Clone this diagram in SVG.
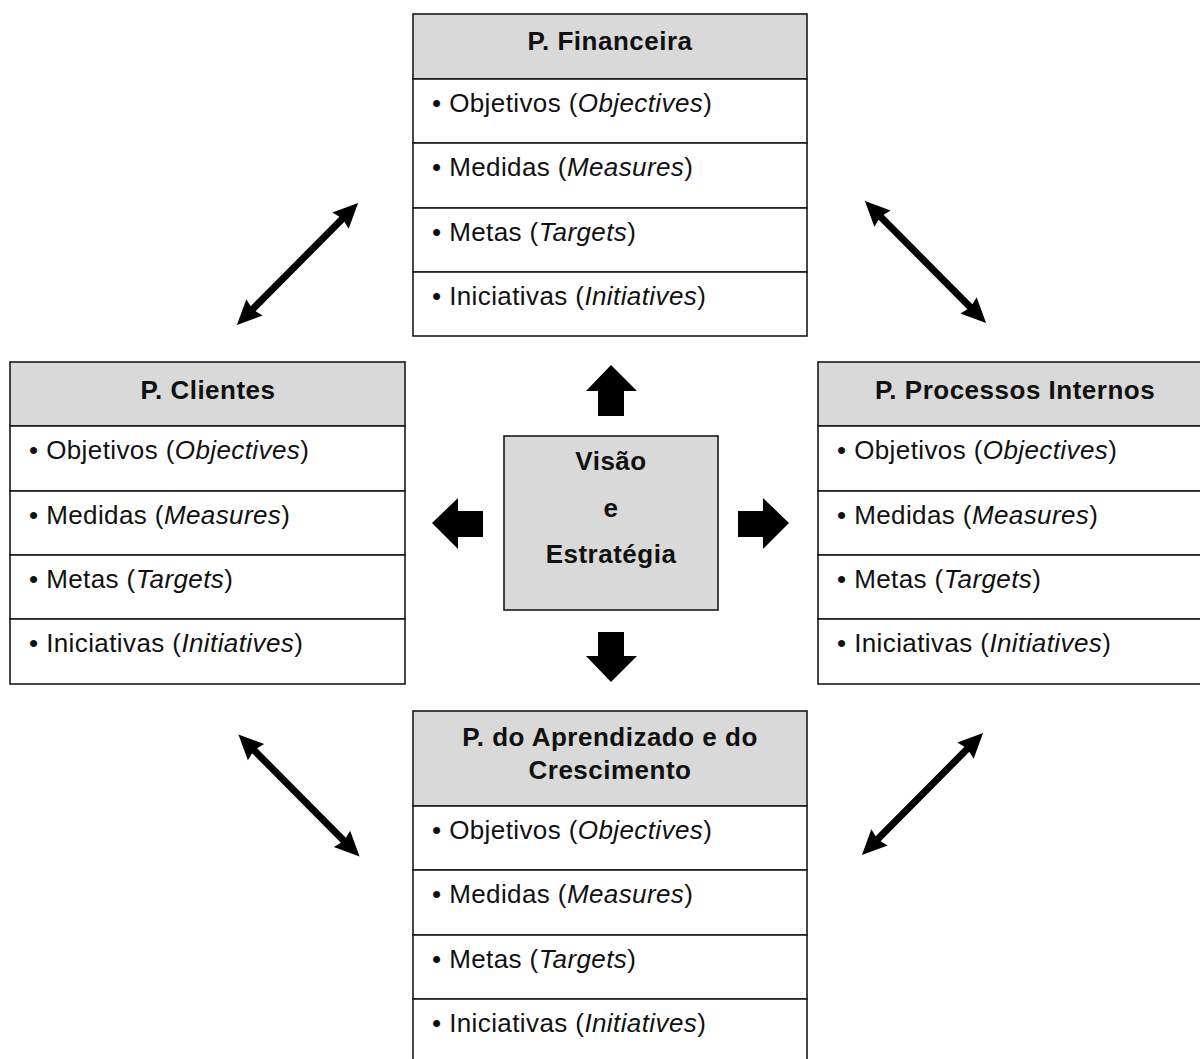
<svg xmlns="http://www.w3.org/2000/svg" xmlns:xlink="http://www.w3.org/1999/xlink" width="1200" height="1059" viewBox="0 0 1200 1059">
<style>
.bg{fill:#ffffff}
.hdr{fill:#d9d9d9;stroke:#1a1a1a;stroke-width:1.6}
.row{fill:#ffffff;stroke:#1a1a1a;stroke-width:1.6}
.ttl{font-family:"Liberation Sans",Arial,sans-serif;font-weight:bold;font-size:26px;letter-spacing:0.5px;fill:#111;text-anchor:middle}
.itm{font-family:"Liberation Sans",Arial,sans-serif;font-size:26px;letter-spacing:0.4px;fill:#111}
.it{font-style:italic}
.blk{fill:#000}
</style>
<defs>
<polygon id="dbl" points="-86,0 -61,-11.5 -63,-3.5 63,-3.5 61,-11.5 86,0 61,11.5 63,3.5 -63,3.5 -61,11.5"/>
</defs>
<rect class="bg" x="0" y="0" width="1200" height="1059"/>

<g id="connectors">
  <use xlink:href="#dbl" class="blk" transform="translate(297.5,264) rotate(-45.2)"/>
  <use xlink:href="#dbl" class="blk" transform="translate(925.5,262) rotate(45.2)"/>
  <use xlink:href="#dbl" class="blk" transform="translate(299,795.5) rotate(45.2)"/>
  <use xlink:href="#dbl" class="blk" transform="translate(922.5,794) rotate(-45.2)"/>
  <polygon class="blk" points="611,365 637,391 624,391 624,416 598,416 598,391 586,391"/>
  <polygon class="blk" points="611,682 637,656 624,656 624,632 598,632 598,656 586,656"/>
  <polygon class="blk" points="789,523 763,549 763,537 738,537 738,511 763,511 763,498"/>
  <polygon class="blk" points="432,523 458,549 458,537 483,537 483,511 458,511 458,498"/>
</g>

<g id="node-financeira">
  <rect class="hdr" x="413" y="14" width="394" height="65"/>
  <rect class="row" x="413" y="79" width="394" height="64"/>
  <rect class="row" x="413" y="143" width="394" height="65"/>
  <rect class="row" x="413" y="208" width="394" height="64"/>
  <rect class="row" x="413" y="272" width="394" height="64"/>
  <text class="ttl" x="610" y="50">P. Financeira</text>
  <text class="itm" x="432" y="112">• Objetivos (<tspan class="it">Objectives</tspan>)</text>
  <text class="itm" x="432" y="176">• Medidas (<tspan class="it">Measures</tspan>)</text>
  <text class="itm" x="432" y="241">• Metas (<tspan class="it">Targets</tspan>)</text>
  <text class="itm" x="432" y="305">• Iniciativas (<tspan class="it">Initiatives</tspan>)</text>
</g>

<g id="node-clientes">
  <rect class="hdr" x="10" y="362" width="395" height="64"/>
  <rect class="row" x="10" y="426" width="395" height="65"/>
  <rect class="row" x="10" y="491" width="395" height="64"/>
  <rect class="row" x="10" y="555" width="395" height="64"/>
  <rect class="row" x="10" y="619" width="395" height="65"/>
  <text class="ttl" x="208" y="399">P. Clientes</text>
  <text class="itm" x="29" y="459">• Objetivos (<tspan class="it">Objectives</tspan>)</text>
  <text class="itm" x="29" y="524">• Medidas (<tspan class="it">Measures</tspan>)</text>
  <text class="itm" x="29" y="588">• Metas (<tspan class="it">Targets</tspan>)</text>
  <text class="itm" x="29" y="652">• Iniciativas (<tspan class="it">Initiatives</tspan>)</text>
</g>

<g id="node-processos">
  <rect class="hdr" x="818" y="362" width="394" height="64"/>
  <rect class="row" x="818" y="426" width="394" height="65"/>
  <rect class="row" x="818" y="491" width="394" height="64"/>
  <rect class="row" x="818" y="555" width="394" height="64"/>
  <rect class="row" x="818" y="619" width="394" height="65"/>
  <text class="ttl" x="1015" y="399">P. Processos Internos</text>
  <text class="itm" x="837" y="459">• Objetivos (<tspan class="it">Objectives</tspan>)</text>
  <text class="itm" x="837" y="524">• Medidas (<tspan class="it">Measures</tspan>)</text>
  <text class="itm" x="837" y="588">• Metas (<tspan class="it">Targets</tspan>)</text>
  <text class="itm" x="837" y="652">• Iniciativas (<tspan class="it">Initiatives</tspan>)</text>
</g>

<g id="node-visao">
  <rect class="hdr" x="504" y="436" width="214" height="174"/>
  <text class="ttl" x="611" y="470">Visão</text>
  <text class="ttl" x="611" y="517">e</text>
  <text class="ttl" x="611" y="563">Estratégia</text>
</g>

<g id="node-aprendizado">
  <rect class="hdr" x="413" y="711" width="394" height="95"/>
  <rect class="row" x="413" y="806" width="394" height="64"/>
  <rect class="row" x="413" y="870" width="394" height="65"/>
  <rect class="row" x="413" y="935" width="394" height="64"/>
  <rect class="row" x="413" y="999" width="394" height="65"/>
  <text class="ttl" x="610" y="746">P. do Aprendizado e do</text>
  <text class="ttl" x="610" y="779">Crescimento</text>
  <text class="itm" x="432" y="839">• Objetivos (<tspan class="it">Objectives</tspan>)</text>
  <text class="itm" x="432" y="903">• Medidas (<tspan class="it">Measures</tspan>)</text>
  <text class="itm" x="432" y="968">• Metas (<tspan class="it">Targets</tspan>)</text>
  <text class="itm" x="432" y="1032">• Iniciativas (<tspan class="it">Initiatives</tspan>)</text>
</g>
</svg>
